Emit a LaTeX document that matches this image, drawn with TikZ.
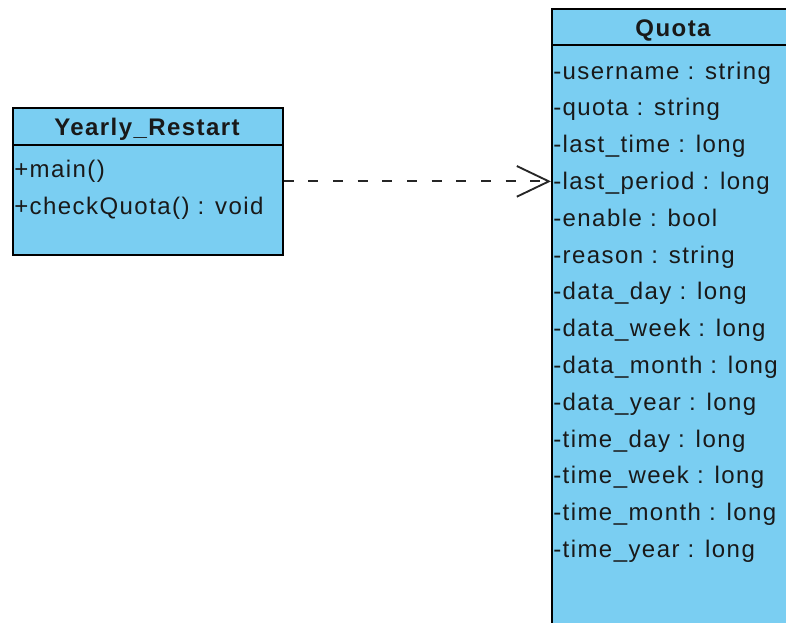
\documentclass[tikz,border=0pt]{standalone}
\usepackage{fontspec}
\setmainfont{Liberation Sans}
\usetikzlibrary{arrows.meta}
\definecolor{umlfill}{RGB}{122,206,242}
\begin{document}
\begin{tikzpicture}[x=0.75pt,y=-0.75pt,
  classbox/.style={draw=black, line width=1.3pt, fill=umlfill, anchor=north west, inner sep=0pt},
  member/.style={anchor=base west, inner sep=0pt, text=black!90, font=\fontsize{18}{20}\selectfont\addfontfeature{LetterSpace=6}},
  classtitle/.style={anchor=base, inner sep=0pt, text=black!90, font=\fontsize{18}{20}\selectfont\bfseries\addfontfeature{LetterSpace=6}},
  sep/.style={draw=black, line width=1.3pt},
  dep/.style={draw=black!85, line width=1.5pt, dash pattern=on 7.5pt off 11pt, -{Straight Barb[length=24pt, width=23pt, line width=1.4pt]}}
]
\useasboundingbox (0,0) rectangle (786,622);
\clip (0,0) rectangle (786,622);

% Yearly_Restart class
\node[classbox, minimum width=202.5pt, minimum height=110.25pt] (yr) at (12,107) {};
\draw[sep] ([yshift=-28.5pt]yr.north west) -- ([yshift=-28.5pt]yr.north east);
\node[classtitle] (yrt) at (147,135) {Yearly\_Restart};
\node[member] (yr1) at (14,177) {+main()};
\node[member] (yr2) at (14,214) {+checkQuota() : void};

% Quota class
\node[classbox, minimum width=183.75pt, minimum height=472.5pt] (q) at (551,8) {};
\draw[sep] ([yshift=-27.75pt]q.north west) -- ([yshift=-27.75pt]q.north east);
\node[classtitle] (qt) at (673,36) {Quota};
\foreach \t [count=\i from 0] in {-username : string, -quota : string, -last\_time : long, -last\_period : long, -enable : bool, -reason : string, -data\_day : long, -data\_week : long, -data\_month : long, -data\_year : long, -time\_day : long, -time\_week : long, -time\_month : long, -time\_year : long}{
  \node[member] (q\i) at (553,{79+36.8*\i}) {\t};
}

% dependency
\coordinate (qin) at (q.west |- yr.east);
\draw[dep] (yr.east) -- (qin);
\end{tikzpicture}
\end{document}
